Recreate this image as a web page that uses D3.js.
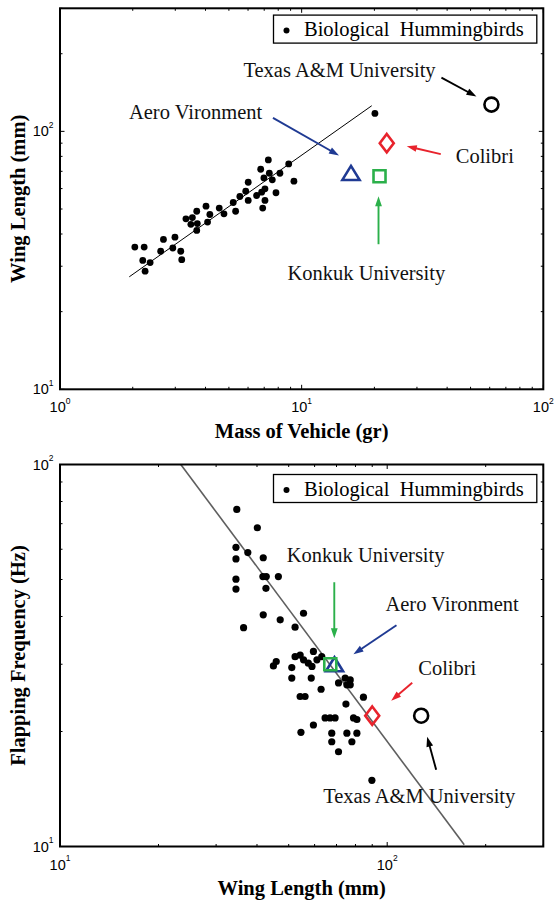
<!DOCTYPE html>
<html>
<head>
<meta charset="utf-8">
<script src="https://cdn.jsdelivr.net/npm/d3@7"></script>
<style>
  html, body { margin: 0; padding: 0; background: #fff; }
  svg { display: block; }
</style>
</head>
<body>
<svg id="chart" width="555" height="905"></svg>
<script>
// ---- Biological hummingbirds: body mass (g) vs wing length (mm) ----
const birdMass = [2.04, 2.23, 2.20, 2.36, 2.25, 2.61, 2.68, 2.93, 2.99, 3.16,
                  3.19, 3.32, 3.48, 3.53, 3.68, 3.70, 3.68, 4.02, 4.08, 4.17,
                  4.56, 4.77, 5.21, 5.33, 5.55, 5.87, 6.01, 6.01, 6.51, 6.77,
                  6.83, 6.98, 7.05, 7.05, 6.90, 7.28, 7.35, 7.56, 7.83, 8.13,
                  8.84, 9.29, 20.1];
const birdWing = [35.6, 35.6, 31.6, 31.0, 28.7, 34.3, 38.1, 35.3, 38.9, 34.3,
                  31.8, 45.8, 43.6, 46.3, 49.0, 43.9, 41.3, 51.3, 44.5, 47.6,
                  50.4, 47.9, 53.0, 49.0, 55.9, 58.6, 63.5, 54.0, 56.4, 71.3,
                  58.1, 66.0, 59.9, 54.0, 50.4, 77.5, 68.8, 64.9, 57.8, 68.8,
                  74.8, 64.1, 117.4];
// power-law fit through the bird data (end points)
const massFitX = [1.935, 19.5];
const massFitY = [27.3, 125.7];

// ---- Biological hummingbirds: wing length (mm) vs flapping frequency (Hz) ----
const birdWingLen = [34.7, 40.1, 34.5, 37.5, 34.5, 41.8, 41.7, 42.7, 46.5, 34.5,
                     34.5, 42.6, 41.8, 47.1, 55.5, 36.4, 52.3, 52.3, 54.2, 55.5,
                     57.4, 59.5, 61.0, 63.1, 58.9, 44.9, 45.8, 51.1, 51.1, 58.6,
                     62.8, 71.0, 74.4, 77.1, 75.3, 77.1, 54.2, 56.1, 84.6, 74.8,
                     64.6, 66.9, 69.3, 78.9, 80.8, 59.5, 54.5, 67.7, 67.7, 75.3,
                     80.8, 78.0, 71.0, 89.8];
const birdFreq = [76.3, 68.3, 60.7, 58.8, 56.6, 57.0, 50.9, 50.9, 50.9, 50.1,
                  47.2, 47.4, 40.4, 39.2, 40.8, 37.4, 37.5, 31.4, 31.7, 30.8,
                  30.2, 32.4, 30.8, 31.4, 29.6, 29.7, 30.5, 29.4, 27.6, 27.6,
                  25.8, 26.8, 27.6, 27.3, 26.5, 26.5, 24.7, 24.7, 24.6, 23.6,
                  21.7, 21.7, 21.7, 21.7, 21.5, 20.8, 19.9, 19.8, 18.8, 19.8,
                  19.8, 18.8, 17.7, 14.9];
const freqFitX = [23.4, 172];
const freqFitY = [100, 10.1];

// ---- Flapping-wing vehicles ----
const vehicleNames = ["Aero Vironment", "Konkuk University", "Colibri", "Texas A&M University"];
const vehicleMass  = [16, 21, 22.5, 61];
const vehicleWing  = [69, 67, 90, 127];
const vehicleFreq  = [30, 30, 22, 22];

const legendLabel = "Biological  Hummingbirds";

// ---- styling / layout ----
const SERIF = "'Liberation Serif', 'Times New Roman', serif";
const SANS  = "'Liberation Sans', Arial, sans-serif";
const vehicleStyle = [
  { shape: "triangle", color: "#1f3a93" },
  { shape: "square",   color: "#2bb04a" },
  { shape: "diamond",  color: "#e8232c" },
  { shape: "circle",   color: "#000000" }
];

// annotation offsets relative to each marker: arrow tail, arrow tip, label start
const topNotes = [
  { from: [-78, -55], to: [-12, -17.5], label: [-222, -54] },
  { from: [-1, 68],   to: [-1, 20],     label: [-92, 104] },
  { from: [54, 11],   to: [20, 3],      label: [69, 20] },
  { from: [-50, -27], to: [-15, -8],    label: [-248, -28] }
];
const bottomNotes = [
  { from: [62, -39],  to: [19, -10],    label: [51, -53.5] },
  { from: [4, -82],   to: [4, -26],     label: [-43.5, -102.5] },
  { from: [40, -33],  to: [19, -15],    label: [46, -41] },
  { from: [15, 54],   to: [6, 21],      label: [-98, 87.5] }
];

const svg = d3.select("#chart");
const defs = svg.append("defs");
defs.append("filter").attr("id", "soft")
  .attr("x", "-20%").attr("y", "-20%").attr("width", "140%").attr("height", "140%")
  .append("feGaussianBlur").attr("stdDeviation", 0.45);

function makePanel(box, xDomain, yDomain) {
  const x = d3.scaleLog().domain(xDomain).range([box.left, box.right]);
  const y = d3.scaleLog().domain(yDomain).range([box.bottom, box.top]);
  return { box, x, y, g: svg.append("g") };
}

function isDecade(v) {
  const l = Math.log10(v);
  return Math.abs(l - Math.round(l)) < 1e-9;
}

function powText(sel, v) {
  sel.append("tspan").text("10");
  sel.append("tspan").attr("font-size", 8.5).attr("dy", -8.5).text(Math.round(Math.log10(v)));
}

function drawFrame(p) {
  const { box, x, y, g } = p;
  const majorLen = 4.5, minorLen = 2.5;
  const ticks = g.append("g").attr("stroke", "#000").attr("stroke-width", 1);
  x.ticks().forEach(v => {
    const len = isDecade(v) ? majorLen : minorLen;
    const px = x(v);
    ticks.append("line").attr("x1", px).attr("x2", px).attr("y1", box.bottom).attr("y2", box.bottom - len);
    ticks.append("line").attr("x1", px).attr("x2", px).attr("y1", box.top).attr("y2", box.top + len);
  });
  y.ticks().forEach(v => {
    const len = isDecade(v) ? majorLen : minorLen;
    const py = y(v);
    ticks.append("line").attr("y1", py).attr("y2", py).attr("x1", box.left).attr("x2", box.left + len);
    ticks.append("line").attr("y1", py).attr("y2", py).attr("x1", box.right).attr("x2", box.right - len);
  });
  g.append("rect")
    .attr("x", box.left).attr("y", box.top)
    .attr("width", box.right - box.left).attr("height", box.bottom - box.top)
    .attr("fill", "none").attr("stroke", "#000").attr("stroke-width", 2);

  x.ticks().filter(isDecade).forEach(v => {
    g.append("text").attr("x", x(v)).attr("y", box.bottom + 23)
      .attr("text-anchor", "middle").attr("font-family", SANS).attr("font-size", 14.5)
      .call(powText, v);
  });
  y.ticks().filter(isDecade).forEach(v => {
    g.append("text").attr("x", box.left - 6.5).attr("y", y(v) + 5)
      .attr("text-anchor", "end").attr("font-family", SANS).attr("font-size", 14.5)
      .call(powText, v);
  });
}

function axisTitles(p, xTitle, yTitle, xBase) {
  const { box, g } = p;
  g.append("text").attr("x", (box.left + box.right) / 2).attr("y", xBase)
    .attr("text-anchor", "middle").attr("font-family", SERIF).attr("font-weight", "bold")
    .attr("font-size", 20.5).text(xTitle);
  const cy = (box.top + box.bottom) / 2;
  g.append("text").attr("transform", `translate(25,${cy}) rotate(-90)`)
    .attr("text-anchor", "middle").attr("font-family", SERIF).attr("font-weight", "bold")
    .attr("font-size", 20.5).text(yTitle);
}

function legend(p, topOff) {
  const { box, g } = p;
  const x0 = 273.5, w = box.right - 6.5 - x0, y0 = box.top + topOff, h = 28;
  g.append("rect").attr("x", x0).attr("y", y0).attr("width", w).attr("height", h)
    .attr("fill", "#fff").attr("stroke", "#000").attr("stroke-width", 1.3);
  g.append("circle").attr("cx", x0 + 13).attr("cy", y0 + 15.5).attr("r", 3).attr("fill", "#000");
  g.append("text").attr("x", x0 + 30.5).attr("y", y0 + 21)
    .attr("font-family", SERIF).attr("font-size", 20.5).style("white-space", "pre")
    .text(legendLabel);
}

function marker(g, shape, cx, cy, color) {
  const sw = 2.6;
  if (shape === "circle") {
    g.append("circle").attr("cx", cx).attr("cy", cy).attr("r", 7)
      .attr("fill", "none").attr("stroke", color).attr("stroke-width", sw);
    return;
  }
  let pts;
  if (shape === "triangle") pts = [[0, -7], [8.6, 7], [-8.6, 7]];
  if (shape === "square") pts = [[-6, -6], [6, -6], [6, 6], [-6, 6]];
  if (shape === "diamond") pts = [[0, -9.2], [7, 0], [0, 9.2], [-7, 0]];
  g.append("polygon").attr("points", pts.map(q => [cx + q[0], cy + q[1]].join(",")).join(" "))
    .attr("fill", "none").attr("stroke", color).attr("stroke-width", sw)
    .attr("stroke-linejoin", "miter");
}

function arrow(g, x1, y1, x2, y2, color) {
  const ang = Math.atan2(y2 - y1, x2 - x1);
  const L = 10, W = 3.4;
  const bx = x2 - L * Math.cos(ang), by = y2 - L * Math.sin(ang);
  g.append("line").attr("x1", x1).attr("y1", y1).attr("x2", bx + 2 * Math.cos(ang)).attr("y2", by + 2 * Math.sin(ang))
    .attr("stroke", color).attr("stroke-width", 1.9);
  const nx = -Math.sin(ang), ny = Math.cos(ang);
  g.append("polygon")
    .attr("points", [[x2, y2], [bx + nx * W, by + ny * W], [bx - nx * W, by - ny * W]].map(q => q.join(",")).join(" "))
    .attr("fill", color);
}

function annotate(p, xs, ys, notes) {
  const g = p.g;
  vehicleNames.forEach((name, i) => {
    const cx = p.x(xs[i]), cy = p.y(ys[i]);
    const n = notes[i], st = vehicleStyle[i];
    arrow(g, cx + n.from[0], cy + n.from[1], cx + n.to[0], cy + n.to[1], st.color);
    g.append("text").attr("x", cx + n.label[0]).attr("y", cy + n.label[1])
      .attr("font-family", SERIF).attr("font-size", 20.5).attr("fill", "#111").text(name);
  });
  vehicleNames.forEach((name, i) => {
    marker(g, vehicleStyle[i].shape, p.x(xs[i]), p.y(ys[i]), vehicleStyle[i].color);
  });
}

// ================= Panel 1: wing length vs mass =================
const p1 = makePanel({ left: 60, right: 543.3, top: 8.3, bottom: 389.3 }, [1, 100], [10, 300]);
p1.g.append("line")
  .attr("x1", p1.x(massFitX[0])).attr("y1", p1.y(massFitY[0]))
  .attr("x2", p1.x(massFitX[1])).attr("y2", p1.y(massFitY[1]))
  .attr("stroke", "#000").attr("stroke-width", 1);
p1.g.append("g").selectAll("circle").data(birdMass).join("circle")
  .attr("cx", d => p1.x(d)).attr("cy", (d, i) => p1.y(birdWing[i]))
  .attr("r", 3.4).attr("fill", "#000");
annotate(p1, vehicleMass, vehicleWing, topNotes);
drawFrame(p1);
legend(p1, 6.8);
axisTitles(p1, "Mass of Vehicle (gr)", "Wing Length (mm)", 438);

// ================= Panel 2: flapping frequency vs wing length =================
const p2 = makePanel({ left: 60, right: 543.3, top: 464.5, bottom: 846.5 }, [10, 300], [10, 100]);
const soft = p2.g.append("g").attr("filter", "url(#soft)");
soft.append("line")
  .attr("x1", p2.x(freqFitX[0])).attr("y1", p2.y(freqFitY[0]))
  .attr("x2", p2.x(freqFitX[1])).attr("y2", p2.y(freqFitY[1]))
  .attr("stroke", "#5e5e5e").attr("stroke-width", 1.6);
soft.append("g").selectAll("circle").data(birdWingLen).join("circle")
  .attr("cx", d => p2.x(d)).attr("cy", (d, i) => p2.y(birdFreq[i]))
  .attr("r", 3.6).attr("fill", "#000");
annotate(p2, vehicleWing, vehicleFreq, bottomNotes);
drawFrame(p2);
legend(p2, 10);
axisTitles(p2, "Wing Length (mm)", "Flapping Frequency (Hz)", 895);
</script>
</body>
</html>
